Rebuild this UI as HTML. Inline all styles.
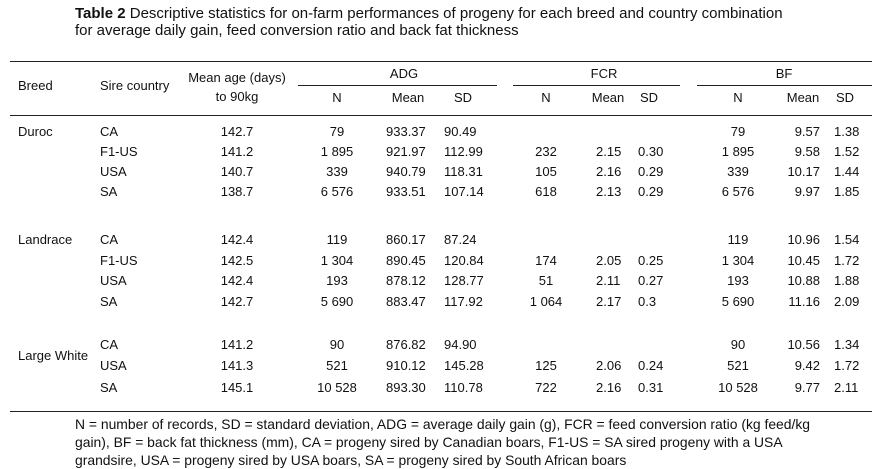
<!DOCTYPE html>
<html><head><meta charset="utf-8"><style>
body{margin:0;width:874px;height:468px;background:#fff;position:relative;overflow:hidden;font-family:"Liberation Sans",Arial,sans-serif;color:#111}
.t{position:absolute;white-space:nowrap;font-size:13px;line-height:16px}
.c{transform:translateX(-50%)}
.r{transform:translateX(-100%)}
.rule{position:absolute;height:1px;background:#222}
</style></head><body>
<div class="t" style="left:75px;top:5px;font-size:15px;line-height:18px"><b>Table 2</b> Descriptive statistics for on-farm performances of progeny for each breed and country combination</div>
<div class="t" style="left:75px;top:22px;font-size:15px;line-height:18px">for average daily gain, feed conversion ratio and back fat thickness</div>
<div class="rule" style="left:10px;width:862px;top:61px"></div>
<div class="rule" style="left:298px;width:199px;top:85px"></div>
<div class="rule" style="left:513px;width:167px;top:85px"></div>
<div class="rule" style="left:697px;width:175px;top:85px"></div>
<div class="rule" style="left:10px;width:862px;top:115px"></div>
<div class="rule" style="left:10px;width:862px;top:411px"></div>
<div id="hdr"></div>
<div id="rows"></div>
<div class="t" style="left:75px;top:415px;line-height:18px;font-size:13.9px">N = number of records, SD = standard deviation, ADG = average daily gain (g), FCR = feed conversion ratio (kg feed/kg<br>gain), BF = back fat thickness (mm), CA = progeny sired by Canadian boars, F1-US = SA sired progeny with a USA<br>grandsire, USA = progeny sired by USA boars, SA = progeny sired by South African boars</div>
<script>
const breeds=["Duroc","","","","Landrace","","","","Large White","",""];
const sires=["CA","F1-US","USA","SA","CA","F1-US","USA","SA","CA","USA","SA"];
const ages=["142.7","141.2","140.7","138.7","142.4","142.5","142.4","142.7","141.2","141.3","145.1"];
const adgN=["79","1 895","339","6 576","119","1 304","193","5 690","90","521","10 528"];
const adgMean=["933.37","921.97","940.79","933.51","860.17","890.45","878.12","883.47","876.82","910.12","893.30"];
const adgSD=["90.49","112.99","118.31","107.14","87.24","120.84","128.77","117.92","94.90","145.28","110.78"];
const fcrN=["","232","105","618","","174","51","1 064","","125","722"];
const fcrMean=["","2.15","2.16","2.13","","2.05","2.11","2.17","","2.06","2.16"];
const fcrSD=["","0.30","0.29","0.29","","0.25","0.27","0.3","","0.24","0.31"];
const bfN=["79","1 895","339","6 576","119","1 304","193","5 690","90","521","10 528"];
const bfMean=["9.57","9.58","10.17","9.97","10.96","10.45","10.88","11.16","10.56","9.42","9.77"];
const bfSD=["1.38","1.52","1.44","1.85","1.54","1.72","1.88","2.09","1.34","1.72","2.11"];
const rowY=[124,144,164,184,232,253,273,294,337,358,380];
function put(parent,txt,x,y,cls,name){
 const d=document.createElement('div');
 d.className='t '+cls;d.textContent=txt;d.style.left=x+'px';d.style.top=y+'px';
 
 
 parent.appendChild(d);
}
const H=document.getElementById('hdr');
put(H,"Breed",18,78,'','breed-header');
put(H,"Sire country",100,78,'','sire-country-header');
put(H,"Mean age (days)",237,70,'c','mean-age-header');
put(H,"to 90kg",237,89,'c','mean-age-header-line2');
put(H,"ADG",404,66,'c','adg-header');
put(H,"FCR",604,66,'c','fcr-header');
put(H,"BF",784,66,'c','bf-header');
[["N",337],["Mean",408],["SD",463],["N",546],["Mean",608],["SD",649],["N",738],["Mean",803],["SD",845]].forEach(h=>put(H,h[0],h[1],90,'c','subheader-'+h[0].toLowerCase()));
const R=document.getElementById('rows');
for(let i=0;i<sires.length;i++){
 const y=rowY[i];
 if(breeds[i]) put(R,breeds[i],18,breeds[i]==="Large White"?348:y,'','breed-label');
 put(R,sires[i],100,y,'','sire-country');
 put(R,ages[i],237,y,'c','mean-age');
 put(R,adgN[i],337,y,'c','adg-n');
 put(R,adgMean[i],386,y,'','adg-mean');
 put(R,adgSD[i],444,y,'','adg-sd');
 put(R,fcrN[i],546,y,'c','fcr-n');
 put(R,fcrMean[i],596,y,'','fcr-mean');
 put(R,fcrSD[i],638,y,'','fcr-sd');
 put(R,bfN[i],738,y,'c','bf-n');
 put(R,bfMean[i],820,y,'r','bf-mean');
 put(R,bfSD[i],834,y,'','bf-sd');
}
</script>
</body></html>
